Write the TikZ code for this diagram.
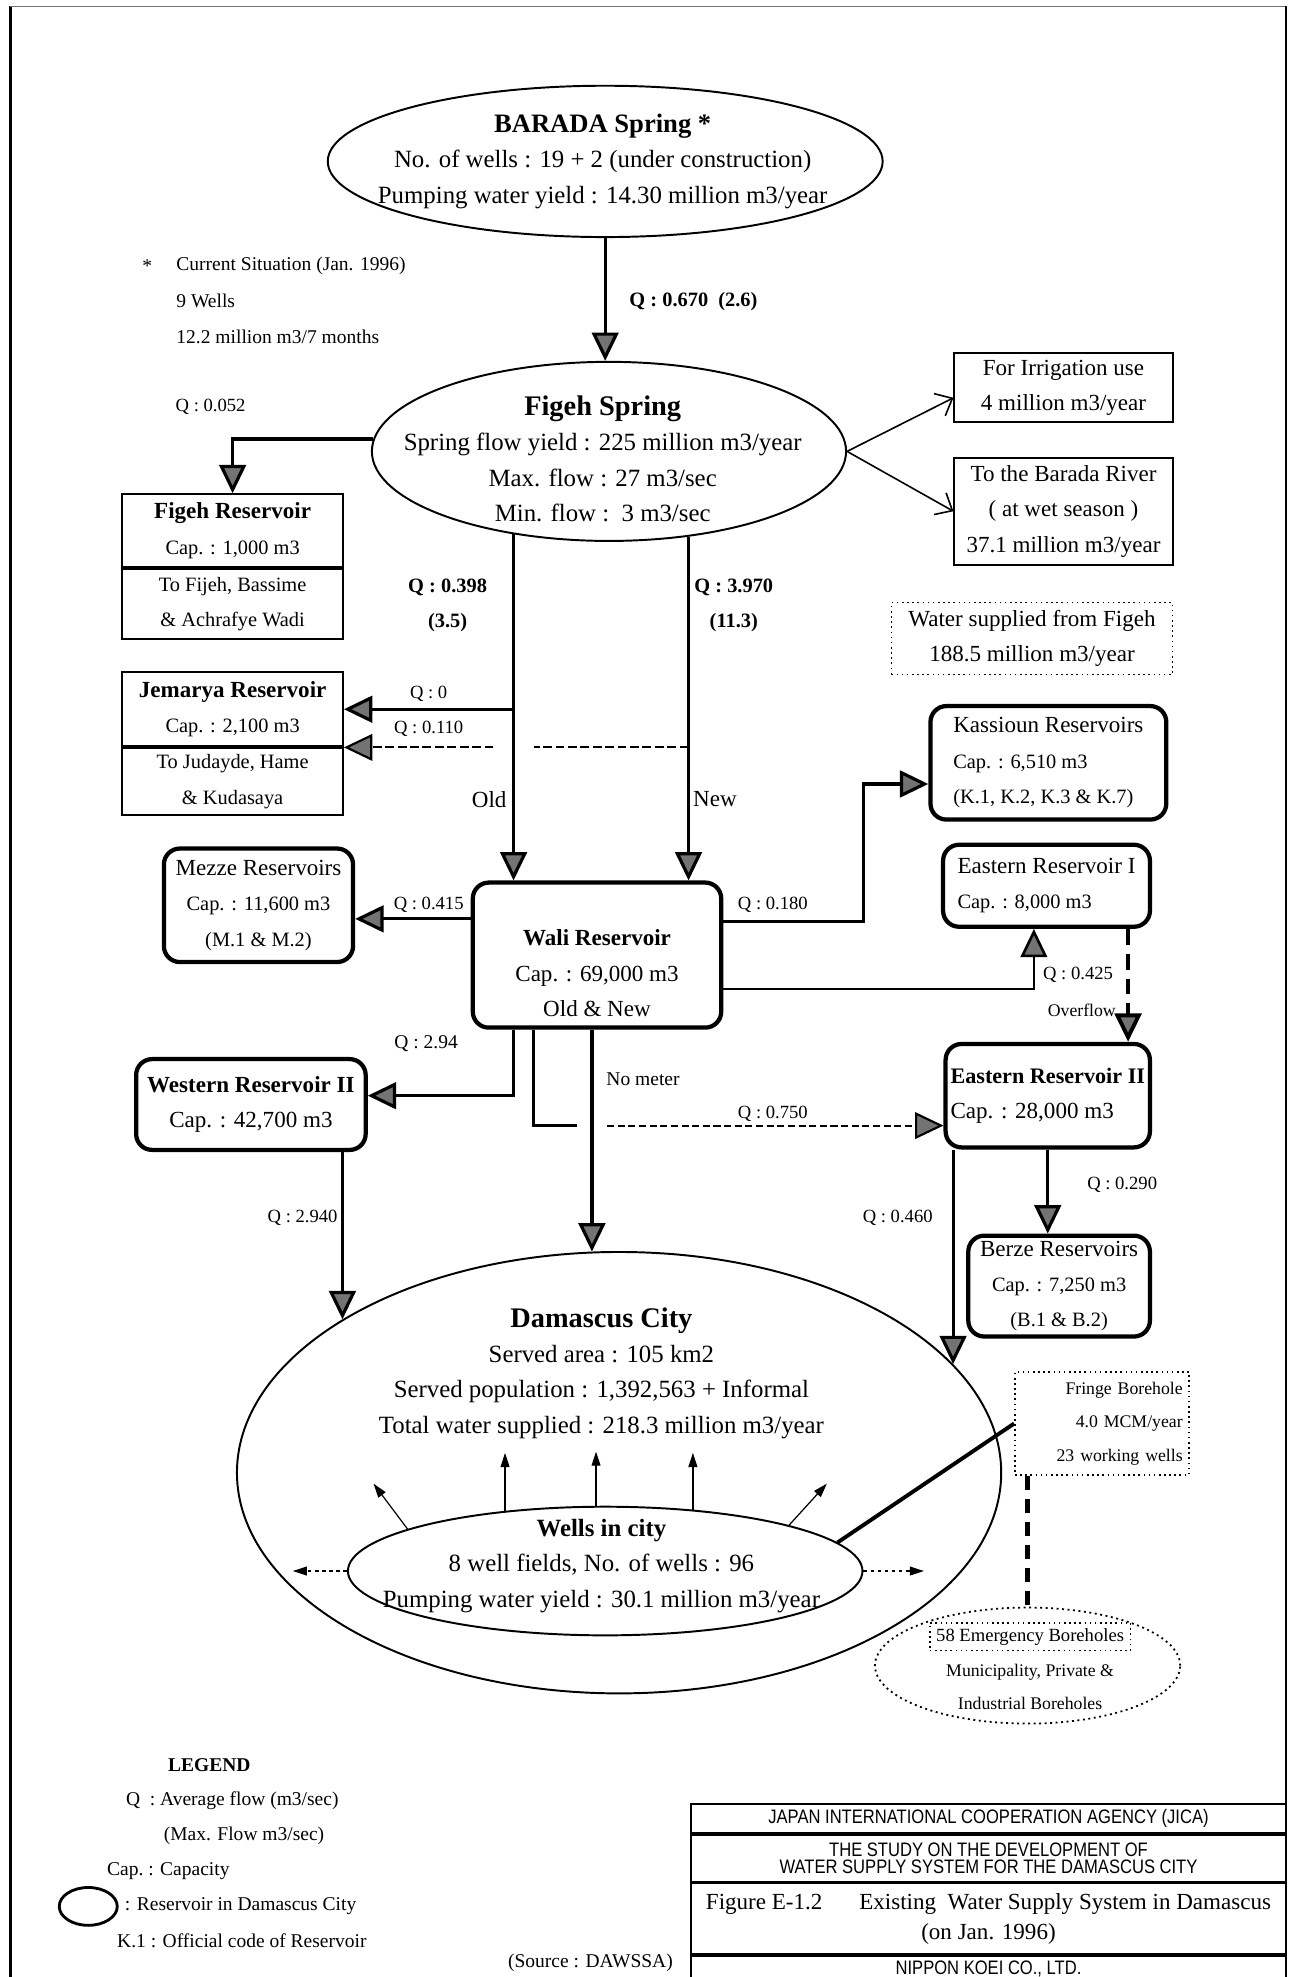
\documentclass[tikz,border=0pt]{standalone}
\usepackage{fontspec}
\setmainfont{Liberation Serif}
\newfontfamily\jicafont{Liberation Sans}[FakeStretch=0.85]
\usetikzlibrary{shapes.geometric,arrows.meta,positioning}

\begin{document}
\begin{tikzpicture}[x=0.025cm,y=-0.025cm,
  oval/.style={ellipse,draw,line width=1.1pt,inner sep=0pt},
  res box/.style={rectangle,rounded corners=9pt,draw,line width=2.4pt,inner sep=2pt,font=\fontsize{11.5}{20}\selectfont,align=center},
  sq box/.style={rectangle,draw,line width=1.1pt,inner sep=2pt,font=\fontsize{11.5}{20}\selectfont,align=center},
  dot box/.style={rectangle,draw,dotted,line width=0.9pt,inner sep=2pt},
  flow/.style={line width=1.8pt,-{Triangle[width=15pt,length=16pt,fill=black!55]}},
  pipe/.style={line width=1.8pt},
  thin flow/.style={line width=0.9pt,-{Straight Barb[width=14pt,length=8pt]}},
  city flow/.style={line width=0.7pt,-{Triangle[width=5pt,length=8pt]}},
  ell txt/.style={font=\fontsize{14}{20}\selectfont,align=center},
  box txt/.style={font=\fontsize{13}{20}\selectfont,align=center},
  q lab/.style={font=\fontsize{10.5}{20}\selectfont},
  qb lab/.style={font=\bfseries\fontsize{11.5}{20}\selectfont,align=center},
  legend txt/.style={font=\fontsize{11}{14}\selectfont,anchor=west},
  title row/.style={rectangle,draw,line width=1pt,minimum width=11.8cm,inner sep=0pt,align=center}]
\useasboundingbox (0,0) rectangle (1027,1568);

% frame
\draw[line width=1.6pt] (8,1568) -- (8,5);
\draw[black!55,line width=0.8pt] (8,5) -- (1020,5);
\draw[line width=1.2pt] (1020,5) -- (1020,1431);

% springs
\node[oval,minimum width=11cm,minimum height=3cm] (barada) at (480,128) {};
\node[ell txt] (baradatxt) at (478,128) {{\bfseries\fontsize{15}{20}\selectfont BARADA Spring *}\\No. of wells : 19 + 2 (under construction)\\Pumping water yield : 14.30 million m3/year};
\node[oval,minimum width=9.4cm,minimum height=3.55cm] (figeh) at (483,358) {};
\node[ell txt] (figehtxt) at (478,364) {{\bfseries\fontsize{16}{20}\selectfont Figeh Spring}\\Spring flow yield : 225 million m3/year\\Max. flow : 27 m3/sec\\Min. flow :\ \ 3 m3/sec};

\node[legend txt] (star) at (108,211) {*};
\node[legend txt] (cur) at (135,211) {Current Situation (Jan. 1996)};
\node[legend txt] (cur9) at (135,239) {9 Wells};
\node[legend txt] (cur12) at (135,267) {12.2 million m3/7 months};

\draw[flow] (barada.south) -- (barada.south |- figeh.north);
\node[qb lab] (q670) at (550,239) {Q : 0.670\ \ (2.6)};

% Figeh outlets
\node[sq box,box txt,minimum width=4.325cm,minimum height=1.375cm] (irrig) at (843.5,307.5) {For Irrigation use\\4 million m3/year};
\node[sq box,box txt,minimum width=4.325cm,minimum height=2.125cm] (barriv) at (843.5,405.5) {To the Barada River\\( at wet season )\\37.1 million m3/year};
\node[dot box,box txt,minimum width=5.575cm,minimum height=1.425cm] (wsup) at (818.5,506.5) {Water supplied from Figeh\\188.5 million m3/year};
\draw[thin flow] (figeh.east) -- ([yshift=-2mm]irrig.west);
\draw[thin flow] (figeh.east) -- (barriv.west);

\node[sq box,minimum width=4.375cm,minimum height=1.45cm] (fres) at (184.5,421) {{\bfseries\fontsize{13}{20}\selectfont Figeh Reservoir}\\Cap. : 1,000 m3};
\node[sq box,minimum width=4.375cm,minimum height=1.375cm,below=0pt of fres] (fresb) {To Fijeh, Bassime\\\& Achrafye Wadi};
\draw[flow] (figeh.177.5) -| (fres.north);
\node[q lab] (q052) at (167,323) {Q : 0.052};

\node[sq box,minimum width=4.375cm,minimum height=1.475cm] (jres) at (184.5,562.5) {{\bfseries\fontsize{13}{20}\selectfont Jemarya Reservoir}\\Cap. : 2,100 m3};
\node[sq box,minimum width=4.375cm,minimum height=1.325cm,below=0pt of jres] (jresb) {To Judayde, Hame\\\& Kudasaya};

\node[qb lab] (q398) at (355,480) {Q : 0.398\\(3.5)};
\node[qb lab] (q3970) at (582,480) {Q : 3.970\\(11.3)};

% Wali and the reservoirs round it
\node[res box,minimum width=4.925cm,minimum height=2.875cm] (wali) at (473.5,757.5) {};
\node[box txt] (walitxt) at (473.5,772) {\textbf{Wali Reservoir}\\Cap. : 69,000 m3\\Old \& New};
\node[res box,align=left,minimum width=4.675cm,minimum height=2.25cm] (kass) at (831.5,605) {{\fontsize{13}{20}\selectfont Kassioun Reservoirs}\\Cap. : 6,510 m3\\(K.1, K.2, K.3 \& K.7)};
\node[res box,align=left,minimum width=4.1cm,minimum height=1.625cm] (east1) at (830,702.5) {{\fontsize{13}{20}\selectfont Eastern Reservoir I}\\Cap. : 8,000 m3};
\node[res box,minimum width=3.75cm,minimum height=2.25cm] (mezze) at (205,718) {{\fontsize{13}{20}\selectfont Mezze Reservoirs}\\Cap. : 11,600 m3\\(M.1 \& M.2)};
\node[res box,box txt,minimum width=4.55cm,minimum height=1.8cm] (west2) at (199,876) {\textbf{Western Reservoir II}\\Cap. : 42,700 m3};
\node[res box,box txt,align=left,minimum width=4.05cm,minimum height=2.05cm] (east2) at (831,869) {{\bfseries\fontsize{12.5}{20}\selectfont Eastern Reservoir II}\\Cap. : 28,000 m3};
\node[res box,minimum width=3.6cm,minimum height=2cm] (berze) at (840,1020) {{\fontsize{13}{20}\selectfont Berze Reservoirs}\\Cap. : 7,250 m3\\(B.1 \& B.2)};

\draw[flow] (figeh.-139.5) -- (figeh.-139.5 |- wali.north);
\draw[flow] (figeh.-47.2) -- (figeh.-47.2 |- wali.north);
\node[box txt] (old) at (388,634) {Old};
\node[box txt] (new) at (567,634) {New};

\draw[flow] (figeh.-139.5 |- jres.east) -- (jres.east);
\coordinate (oldj) at (figeh.-139.5 |- jres.south east);
\draw[line width=1.2pt,dash pattern=on 5pt off 2pt] (figeh.-47.2 |- oldj) -- ([xshift=4mm]oldj);
\draw[flow,line width=1.2pt,dash pattern=on 5pt off 2pt] ([xshift=-4mm]oldj) -- (jres.south east);
\node[q lab] (q0) at (340,550) {Q : 0};
\node[q lab] (q110) at (340,578) {Q : 0.110};

\draw[flow] (wali.164) -- (wali.164 -| mezze.east);
\node[q lab] (q415) at (340,718) {Q : 0.415};
\draw[flow] (wali.15) -- ++(111,0) |- (kass.190);
\node[q lab] (q180) at (613,718) {Q : 0.180};
\draw[flow,line width=1.5pt] (wali.-15) -| ([xshift=-2.5mm]east1.south);
\node[q lab] (q425) at (855,773) {Q : 0.425};
\coordinate (ovf) at ([xshift=-4.75mm]east1.south east);
\draw[flow,line width=2.2pt,dash pattern=on 9pt off 5pt] (ovf) -- (ovf |- east2.north);
\node[q lab,font=\fontsize{10}{12}\selectfont] (ovfl) at (858,801) {Overflow};

% Damascus City
\node[oval,minimum width=15.15cm,minimum height=8.75cm] (damascus) at (491,1168) {};
\node[ell txt] (damtxt) at (477,1089) {{\bfseries\fontsize{16}{20}\selectfont Damascus City}\\Served area : 105 km2\\Served population : 1,392,563 + Informal\\Total water supplied : 218.3 million m3/year};
\coordinate (nm) at (damascus.97.8);
\coordinate (dw) at (damascus.151.6);
\coordinate (de) at (damascus.18.5);

\coordinate (w2in) at ([yshift=1.75mm]west2.east);
\draw[flow] (figeh.-139.5 |- wali.south) |- (w2in);
\node[q lab,font=\fontsize{11}{12}\selectfont] (q294) at (338,828) {Q : 2.94};

\coordinate (m750) at ([xshift=-12.6mm]wali.south);
\coordinate (m750b) at (m750 |- east2.196.5);
\coordinate (nmq) at (nm |- east2.196.5);
\draw[pipe,line width=1.4pt] (m750) -- (m750b) -- ([xshift=-3mm]nmq);
\draw[flow,line width=1.2pt,dash pattern=on 4pt off 2pt] ([xshift=3mm]nmq) -- (east2.196.5);
\node[q lab] (q750) at (613,883) {Q : 0.750};

\draw[flow] (wali.south -| nm) -- (nm);
\node[q lab,font=\fontsize{11}{12}\selectfont] (nometer) at (510,856) {No meter};
\draw[flow] (west2.south -| dw) -- (dw);
\node[q lab] (q2940) at (240,966) {Q : 2.940};
\draw[flow] (east2.south -| de) -- (de);
\node[q lab] (q460) at (712,966) {Q : 0.460};
\draw[flow] (east2.south) -- (east2.south |- berze.north);
\node[q lab] (q290) at (890,940) {Q : 0.290};

% wells in city
\node[oval,minimum width=10.2cm,minimum height=2.55cm] (wells) at (480,1246) {};
\node[ell txt] (wellstxt) at (477,1242) {\textbf{Wells in city}\\8 well fields, No. of wells : 96\\Pumping water yield : 30.1 million m3/year};
\draw[city flow] (wells.149.3) -- ++(0,-46);
\draw[city flow] (wells.98.3) -- ++(0,-43);
\draw[city flow] (wells.35.4) -- ++(0,-45);
\draw[city flow] (wells.168.9) -- ++(-27,-36);
\draw[city flow] (wells.14.5) -- ++(30,-33);
\draw[city flow,dash pattern=on 2pt off 2pt] (wells.west) -- ++(-43,0);
\draw[city flow,dash pattern=on 2pt off 2pt] (wells.east) -- ++(48,0);

% boreholes
\node[dot box,text width=3.2cm,align=right,font=\fontsize{10}{19}\selectfont,minimum width=3.45cm,minimum height=2.05cm] (fringe) at (874,1129) {Fringe Borehole\\4.0 MCM/year\\23 working wells};
\draw[line width=2.2pt] (wells.7.75) -- (fringe.west);
\node[oval,dotted,line width=1pt,minimum width=6.05cm,minimum height=2.3cm] (emerg) at (815,1321) {};
\node[dot box,font=\fontsize{10.5}{12}\selectfont,inner sep=1pt,minimum width=3.975cm,minimum height=0.55cm] (emerghd) at (817,1298) {58 Emergency Boreholes};
\node[font=\fontsize{10}{19}\selectfont,align=center] (emergtxt) at (817,1338) {Municipality, Private \&\\Industrial Boreholes};
\draw[line width=2.4pt,dash pattern=on 8pt off 5pt] (fringe.south west -| emerg.north) -- (emerg.north);

% legend
\node[font=\bfseries\fontsize{11}{14}\selectfont] (legend) at (166,1400) {LEGEND};
\node[legend txt] (lgq) at (95,1428) {Q\ \ : Average flow (m3/sec)};
\node[legend txt] (lgmax) at (125,1456) {(Max. Flow m3/sec)};
\node[legend txt] (lgcap) at (80,1484) {Cap.\ : Capacity};
\node[oval,line width=1.6pt,minimum width=1.15cm,minimum height=0.75cm] (lgoval) at (70,1512) {};
\node[legend txt,right=0pt of lgoval] (lgres) {: Reservoir in Damascus City};
\node[legend txt] (lgk) at (88,1539) {K.1 : Official code of Reservoir};
\node[legend txt] (src) at (398,1557) {(Source : DAWSSA)};

% title block
\node[title row,minimum height=0.575cm,font=\jicafont\fontsize{11}{10}\selectfont] (jica) at (784,1442.5) {JAPAN INTERNATIONAL COOPERATION AGENCY (JICA)};
\node[title row,minimum height=0.925cm,font=\jicafont\fontsize{11}{10}\selectfont,below=0pt of jica] (study) {THE STUDY ON THE DEVELOPMENT OF\\WATER SUPPLY SYSTEM FOR THE DAMASCUS CITY};
\node[title row,minimum height=1.4cm,font=\fontsize{13}{17}\selectfont,below=0pt of study] (fig) {Figure E-1.2\hspace{1.6em}Existing\ \ Water Supply System in Damascus\\(on Jan. 1996)};
\node[title row,minimum height=0.5cm,font=\jicafont\fontsize{11}{10}\selectfont,below=0pt of fig] (nk) {NIPPON KOEI CO., LTD.};
\end{tikzpicture}
\end{document}
